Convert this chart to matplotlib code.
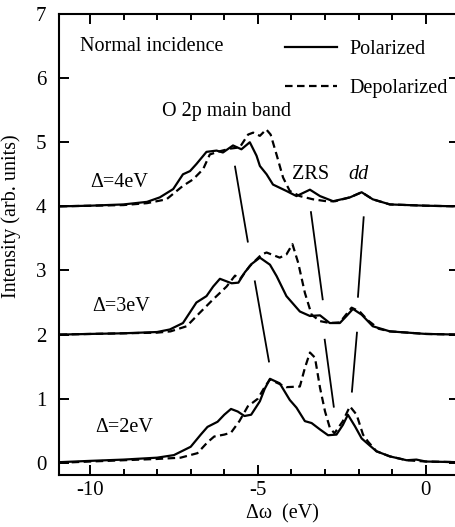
import numpy as np
import matplotlib
matplotlib.use("Agg")
import matplotlib.pyplot as plt
from matplotlib.lines import Line2D
from matplotlib.ticker import MultipleLocator

plt.rcParams['font.family'] = ['Liberation Serif', 'DejaVu Serif']
plt.rcParams['axes.unicode_minus'] = False

# Delta = 2 eV (offset 0)
x2_pol = [-10.9, -10.0, -9.0, -8.0, -7.5, -7.0, -6.7, -6.5, -6.2, -6.0, -5.8, -5.6, -5.4, -5.2,
          -4.94, -4.8, -4.64, -4.35, -4.05, -3.85, -3.6, -3.4, -3.15, -2.91, -2.66, -2.47, -2.32,
          -2.11, -1.91, -1.67, -1.47, -1.07, -0.57, -0.28, 0.0, 0.95]
y2_pol = [0.01, 0.03, 0.05, 0.08, 0.12, 0.25, 0.44, 0.56, 0.64, 0.75, 0.84, 0.80, 0.73, 0.75,
          0.96, 1.15, 1.31, 1.24, 0.98, 0.86, 0.65, 0.62, 0.52, 0.43, 0.44, 0.59, 0.75,
          0.57, 0.38, 0.27, 0.18, 0.10, 0.04, 0.05, 0.02, 0.01]
x2_dep = [-10.9, -10.0, -9.0, -8.0, -7.3, -6.8, -6.5, -6.3, -6.0, -5.8, -5.55, -5.3, -5.0, -4.8,
          -4.64, -4.44, -4.15, -3.75, -3.6, -3.45, -3.3, -3.15, -3.0, -2.86, -2.72, -2.47, -2.26,
          -2.06, -1.87, -1.72, -1.47, -1.07, -0.57, 0.0, 0.95]
y2_dep = [0.0, 0.02, 0.04, 0.06, 0.08, 0.15, 0.32, 0.41, 0.44, 0.47, 0.65, 0.88, 1.0, 1.18,
          1.30, 1.25, 1.18, 1.19, 1.48, 1.72, 1.64, 1.17, 0.80, 0.55, 0.46, 0.65, 0.88,
          0.75, 0.44, 0.33, 0.18, 0.10, 0.04, 0.02, 0.01]

# Delta = 3 eV (offset 2)
x3_pol = [-10.9, -10.0, -9.0, -8.0, -7.62, -7.23, -6.83, -6.53, -6.33, -6.13, -5.93, -5.78, -5.58,
          -5.39, -5.19, -4.94, -4.64, -4.44, -4.15, -3.75, -3.45, -3.15, -2.86, -2.56, -2.36,
          -2.17, -1.91, -1.58, -1.07, 0.0, 0.95]
y3_pol = [2.0, 2.01, 2.02, 2.04, 2.08, 2.18, 2.50, 2.60, 2.75, 2.87, 2.83, 2.80, 2.81,
          2.97, 3.10, 3.20, 3.09, 2.91, 2.60, 2.36, 2.29, 2.30, 2.18, 2.18, 2.29,
          2.40, 2.31, 2.13, 2.05, 2.01, 2.0]
x3_dep = [-10.9, -9.0, -8.0, -7.6, -7.12, -6.73, -6.33, -5.93, -5.68, -5.54, -5.24, -4.89, -4.74,
          -4.35, -4.15, -3.97, -3.80, -3.60, -3.40, -3.15, -2.86, -2.56, -2.21, -1.97, -1.72,
          -1.4, -1.07, 0.0, 0.95]
y3_dep = [2.0, 2.02, 2.03, 2.05, 2.13, 2.34, 2.55, 2.75, 2.92, 2.86, 3.07, 3.25, 3.28,
          3.20, 3.25, 3.41, 3.12, 2.65, 2.31, 2.21, 2.18, 2.19, 2.42, 2.36, 2.22,
          2.09, 2.05, 2.01, 2.0]

# Delta = 4 eV (offset 4)
x4_pol = [-10.9, -10.0, -9.0, -8.3, -7.92, -7.52, -7.23, -7.02, -6.83, -6.53, -6.23, -6.04, -5.74,
          -5.49, -5.24, -5.04, -4.94, -4.74, -4.55, -4.15, -3.85, -3.45, -3.15, -2.76, -2.26,
          -1.91, -1.58, -1.07, 0.0, 0.95]
y4_pol = [4.0, 4.01, 4.03, 4.07, 4.14, 4.27, 4.50, 4.55, 4.66, 4.85, 4.87, 4.84, 4.95,
          4.89, 5.0, 4.79, 4.63, 4.50, 4.34, 4.24, 4.16, 4.26, 4.16, 4.08, 4.14,
          4.22, 4.11, 4.03, 4.01, 4.0]
x4_dep = [-10.9, -9.0, -8.3, -7.72, -7.23, -6.93, -6.63, -6.43, -6.13, -5.83, -5.54, -5.29, -5.14,
          -4.94, -4.75, -4.62, -4.44, -4.25, -4.05, -3.75, -3.36, -2.96, -2.7, -2.26, -1.91,
          -1.58, -1.07, 0.0, 0.95]
y4_dep = [4.0, 4.02, 4.05, 4.11, 4.32, 4.42, 4.58, 4.81, 4.86, 4.90, 4.92, 5.12, 5.15,
          5.10, 5.20, 5.12, 4.80, 4.45, 4.24, 4.16, 4.11, 4.08, 4.08, 4.14, 4.22,
          4.11, 4.03, 4.01, 4.0]

# guide lines following the peaks
guide_x = [(-5.68, -5.30), (-5.09, -4.67), (-3.42, -3.07), (-3.01, -2.74), (-1.85, -2.02), (-2.05, -2.20)]
guide_y = [(4.62, 3.45), (2.83, 1.58), (3.91, 2.55), (1.92, 0.875), (3.83, 2.59), (2.03, 1.11)]

delta_labels = ['Δ=4eV', 'Δ=3eV', 'Δ=2eV']
delta_pos = [(-10.0, 4.37), (-9.94, 2.44), (-9.85, 0.55)]

fig = plt.figure(figsize=(4.55, 5.27), dpi=100)
ax = fig.add_axes([0.1297, 0.0987, 0.880, 0.8747])

lw = 1.6
dash = (0, (3.4, 2.0))
for xs, ys in [(x2_pol, y2_pol), (x3_pol, y3_pol), (x4_pol, y4_pol)]:
    ax.plot(xs, ys, color='black', lw=lw, solid_joinstyle='round')
for xs, ys in [(x2_dep, y2_dep), (x3_dep, y3_dep), (x4_dep, y4_dep)]:
    ax.plot(xs, ys, color='black', lw=lw, ls=dash)

for gx, gy in zip(guide_x, guide_y):
    ax.plot(gx, gy, color='black', lw=1.3)

fs = 14.5
ax.text(-10.30, 6.5, 'Normal incidence', fontsize=fs, va='center')
ax.text(-7.86, 5.48, 'O 2p main band', fontsize=fs, va='center')
ax.text(-3.99, 4.5, 'ZRS', fontsize=fs, va='center')
ax.text(-2.32, 4.5, 'dd', fontsize=fs, va='center', style='italic')
for lab, (tx, ty) in zip(delta_labels, delta_pos):
    ax.text(tx, ty, lab, fontsize=fs, va='center')

handles = [Line2D([], [], color='black', lw=lw),
           Line2D([], [], color='black', lw=lw, ls=dash)]
ax.legend(handles, ['Polarized', 'Depolarized'], loc='upper left',
          bbox_to_anchor=(0.564, 0.944), frameon=False, fontsize=fs,
          handlelength=2.6, handletextpad=0.6, borderaxespad=0, borderpad=0,
          labelspacing=1.0)

ax.set_xlim(-10.92, 1.0)
ax.set_ylim(-0.19, 7.0)
ax.xaxis.set_major_locator(MultipleLocator(5))
ax.xaxis.set_minor_locator(MultipleLocator(1))
ax.yaxis.set_major_locator(MultipleLocator(1))
ax.tick_params(which='both', direction='in', top=True, right=True, width=1.4)
ax.tick_params(which='major', length=7)
ax.tick_params(which='minor', length=4)
ax.tick_params(axis='y', labelsize=15, pad=9)
ax.tick_params(axis='x', labelsize=15, pad=4)
for s in ax.spines.values():
    s.set_linewidth(1.5)

ax.set_xlabel('Δω  (eV)', fontsize=fs)
ax.xaxis.set_label_coords(0.557, -0.064)
ax.set_ylabel('Intensity (arb. units)', fontsize=fs)
ax.yaxis.set_label_coords(-0.095, 0.562)

fig.savefig('out.png', dpi=100)
